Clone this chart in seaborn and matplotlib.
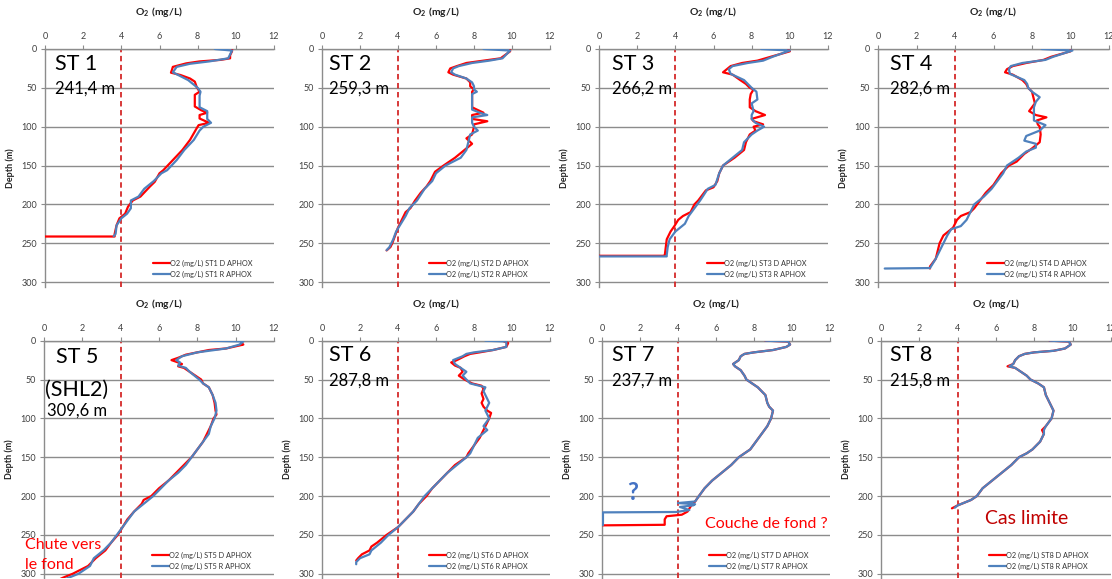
import matplotlib
matplotlib.use("Agg")
import matplotlib.pyplot as plt
import seaborn as sns

# ---------------- data ----------------
stations = ["ST1", "ST2", "ST3", "ST4", "ST5", "ST6", "ST7", "ST8"]
station_titles = ["ST 1", "ST 2", "ST 3", "ST 4", "ST 5", "ST 6", "ST 7", "ST 8"]
bottom_depths = ["241,4 m", "259,3 m", "266,2 m", "282,6 m", "309,6 m", "287,8 m", "237,7 m", "215,8 m"]
o2_ticks = [0, 2, 4, 6, 8, 10, 12]
depth_ticks = [0, 50, 100, 150, 200, 250, 300]
hypoxia_threshold = 4

st1_d_z = [0, 3, 8, 12, 14, 16, 18.5, 23, 27, 30.5, 33.5, 38, 42, 49, 55, 59, 74, 79, 82, 85, 89.5, 95, 98, 102, 117, 130, 143, 156, 160, 171, 177, 190, 195, 203, 212, 218, 227, 238, 241.4, 241.4]
st1_d_o2 = [9.8, 9.8, 9.7, 9.7, 9.2, 8.1, 7.4, 6.7, 6.65, 6.6, 7.1, 7.6, 7.85, 7.95, 8.1, 7.85, 7.85, 8.2, 8.5, 8.1, 8.1, 8.6, 8.05, 7.95, 7.6, 7.2, 6.7, 6.2, 6.0, 5.75, 5.5, 5.0, 4.6, 4.35, 4.2, 3.9, 3.75, 3.65, 3.65, 0.0]
st1_r_z = [0, 2, 12, 16, 19, 23, 30, 35, 40, 50, 55, 60, 75, 80, 85, 90, 95, 100, 105, 117, 130, 143, 156, 160, 170, 180, 190, 195, 205, 212, 218, 227, 238, 241]
st1_r_o2 = [8.9, 9.8, 9.6, 8.6, 7.6, 6.9, 6.7, 7.1, 7.5, 8.0, 8.15, 8.1, 8.1, 8.5, 8.5, 8.5, 8.7, 8.3, 8.1, 7.8, 7.3, 6.9, 6.4, 6.1, 5.7, 5.2, 4.9, 4.5, 4.5, 4.3, 4.0, 3.75, 3.7, 3.6]

st2_d_z = [0, 3, 12, 15, 18, 22, 25, 30, 33, 38, 43, 48, 52, 55, 60, 75, 78, 82, 85, 90, 93, 97, 100, 110, 115, 122, 130, 140, 150, 158, 170, 177, 185, 195, 205, 210, 215, 220, 230, 240, 250, 255, 259.3]
st2_d_o2 = [9.9, 9.9, 9.4, 8.5, 7.6, 7.1, 6.75, 6.65, 6.9, 7.6, 7.8, 7.8, 8.0, 7.9, 7.9, 7.9, 8.15, 8.5, 7.9, 7.9, 8.7, 8.0, 8.0, 7.9, 7.6, 7.9, 7.5, 7.0, 6.4, 5.95, 5.7, 5.5, 5.2, 4.9, 4.65, 4.4, 4.3, 4.2, 4.0, 3.85, 3.7, 3.6, 3.4]
st2_r_z = [0, 2, 12, 15, 18, 22, 25, 30, 33, 38, 43, 48, 52, 55, 58, 78, 82, 85, 88, 95, 100, 105, 110, 120, 130, 140, 150, 160, 170, 180, 195, 205, 215, 225, 235, 245, 255, 259]
st2_r_o2 = [8.5, 9.9, 9.5, 8.8, 7.9, 7.2, 6.9, 6.8, 7.0, 7.6, 7.9, 8.0, 8.0, 8.15, 7.9, 7.9, 8.3, 8.7, 7.9, 7.9, 8.0, 8.2, 7.8, 7.7, 7.6, 7.3, 6.5, 6.0, 5.8, 5.4, 5.0, 4.6, 4.4, 4.15, 3.9, 3.75, 3.55, 3.4]

st3_d_z = [0, 3, 10, 15, 18, 22, 26, 30, 33, 40, 45, 50, 52, 58, 65, 75, 80, 85, 90, 93, 97, 100, 105, 110, 115, 120, 130, 140, 150, 160, 170, 178, 182, 195, 200, 210, 215, 220, 228, 235, 245, 255, 265, 266.2, 266.2]
st3_d_o2 = [9.9, 10.0, 9.0, 8.3, 7.5, 6.9, 6.7, 6.5, 7.0, 7.4, 7.7, 7.9, 8.1, 7.95, 7.9, 7.9, 8.2, 8.7, 8.0, 8.1, 8.6, 8.1, 8.2, 7.9, 7.8, 7.7, 7.6, 7.1, 6.5, 6.3, 6.2, 6.0, 5.6, 5.2, 5.0, 4.8, 4.4, 4.15, 3.95, 3.75, 3.55, 3.5, 3.45, 3.45, 0.0]
st3_r_z = [0, 2, 10, 15, 18, 22, 26, 32, 40, 45, 50, 52, 55, 65, 70, 80, 85, 90, 95, 100, 105, 110, 120, 130, 140, 150, 160, 175, 180, 195, 205, 215, 225, 235, 245, 255, 265, 267, 267]
st3_r_o2 = [8.5, 10.0, 9.1, 8.6, 7.8, 7.0, 6.8, 6.9, 7.6, 7.8, 8.0, 8.1, 8.25, 8.3, 8.0, 8.1, 8.0, 8.0, 8.2, 8.65, 8.3, 8.0, 7.6, 7.5, 7.0, 6.5, 6.3, 6.1, 5.7, 5.3, 5.0, 4.7, 4.5, 4.0, 3.7, 3.6, 3.55, 3.55, 0.0]

st4_d_z = [0, 3, 10, 14, 18, 22, 26, 30, 33, 40, 45, 50, 55, 60, 70, 80, 85, 88, 92, 97, 100, 110, 120, 128, 135, 145, 150, 160, 175, 185, 195, 205, 210, 215, 220, 230, 240, 250, 260, 270, 280, 282.6]
st4_d_o2 = [10.0, 10.0, 9.0, 8.6, 7.7, 7.0, 6.7, 6.6, 7.0, 7.5, 7.7, 7.8, 8.0, 8.05, 8.15, 7.85, 8.2, 8.75, 8.25, 8.3, 8.4, 8.45, 8.4, 8.0, 7.6, 7.2, 6.8, 6.4, 6.0, 5.6, 5.3, 5.0, 4.8, 4.3, 4.1, 3.9, 3.4, 3.2, 3.1, 3.0, 2.7, 2.7]
st4_r_z = [0, 2, 10, 14, 18, 22, 26, 32, 40, 45, 50, 55, 62, 68, 75, 85, 92, 98, 105, 112, 118, 122, 127, 132, 140, 150, 160, 170, 180, 190, 200, 210, 220, 228, 232, 240, 250, 260, 270, 282, 282.6]
st4_r_o2 = [8.5, 10.1, 9.1, 8.7, 7.5, 6.9, 6.8, 6.85, 7.6, 7.75, 7.8, 8.0, 8.4, 8.2, 8.1, 8.1, 8.1, 8.7, 8.4, 7.7, 7.6, 8.2, 8.2, 7.7, 7.3, 6.7, 6.5, 6.2, 5.9, 5.5, 5.0, 4.8, 4.6, 4.3, 3.8, 3.6, 3.4, 3.2, 3.0, 2.7, 0.35]

st5_d_z = [0, 3, 5, 10, 12, 15, 18, 22, 25, 28, 30, 33, 35, 40, 45, 50, 55, 60, 70, 80, 90, 95, 100, 110, 120, 130, 140, 150, 160, 170, 180, 190, 200, 205, 210, 220, 230, 240, 250, 260, 270, 280, 290, 300, 305, 309.6]
st5_d_o2 = [10.3, 10.3, 10.4, 9.5, 8.6, 8.0, 7.4, 7.0, 6.65, 7.0, 7.2, 7.0, 7.3, 7.6, 7.9, 8.2, 8.3, 8.6, 8.8, 8.9, 8.95, 9.0, 8.85, 8.7, 8.5, 8.3, 8.0, 7.7, 7.3, 6.9, 6.5, 6.0, 5.6, 5.2, 5.1, 4.7, 4.35, 4.1, 3.85, 3.5, 3.2, 2.7, 2.3, 1.5, 1.0, 0.6]
st5_r_z = [0, 1, 5, 10, 15, 20, 25, 28, 32, 35, 40, 50, 55, 60, 70, 80, 90, 100, 110, 120, 130, 140, 150, 160, 170, 180, 190, 200, 210, 220, 230, 240, 250, 260, 270, 280, 290, 300, 305, 309.6]
st5_r_o2 = [8.7, 10.4, 10.2, 9.5, 8.0, 7.2, 6.9, 7.1, 7.0, 7.4, 7.6, 8.1, 8.3, 8.6, 8.8, 8.95, 9.0, 8.9, 8.7, 8.6, 8.3, 8.0, 7.7, 7.4, 7.0, 6.5, 6.1, 5.7, 5.2, 4.7, 4.4, 4.1, 3.8, 3.5, 3.1, 2.6, 2.4, 1.8, 1.3, 0.8]

st6_d_z = [0, 3, 8, 12, 15, 17, 20, 25, 28, 32, 35, 40, 45, 50, 55, 58, 62, 68, 75, 80, 85, 90, 93, 100, 110, 115, 125, 135, 145, 150, 160, 170, 180, 190, 200, 210, 220, 230, 240, 250, 260, 265, 270, 275, 280, 283]
st6_d_o2 = [9.5, 9.8, 9.7, 9.0, 8.3, 7.8, 7.5, 7.1, 6.8, 7.0, 7.3, 7.4, 7.2, 7.5, 7.9, 8.4, 8.5, 8.4, 8.5, 8.4, 8.5, 8.7, 8.9, 8.8, 8.6, 8.5, 8.3, 8.0, 7.7, 7.6, 7.0, 6.6, 6.2, 5.8, 5.5, 5.1, 4.8, 4.4, 4.0, 3.4, 2.9, 2.6, 2.5, 2.1, 1.9, 1.8]
st6_r_z = [0, 1, 8, 12, 15, 17, 20, 25, 30, 35, 40, 45, 50, 55, 60, 65, 70, 80, 85, 90, 100, 110, 115, 125, 135, 145, 150, 160, 170, 180, 190, 200, 210, 220, 230, 240, 250, 260, 270, 275, 280, 285, 287.8]
st6_r_o2 = [8.6, 9.7, 9.7, 9.0, 8.0, 7.6, 7.4, 6.9, 7.0, 7.3, 7.6, 7.4, 7.6, 7.8, 8.6, 8.5, 8.6, 8.8, 8.7, 8.6, 8.8, 8.5, 8.7, 8.2, 8.0, 7.8, 7.6, 7.1, 6.6, 6.2, 5.8, 5.4, 5.1, 4.8, 4.4, 4.0, 3.5, 3.1, 2.6, 2.5, 2.0, 1.8, 1.8]

st7_d_z = [0, 1, 5, 8, 12, 15, 17, 20, 25, 30, 33, 38, 45, 50, 55, 60, 65, 70, 80, 85, 90, 100, 110, 120, 130, 140, 150, 160, 170, 180, 190, 200, 207, 212, 220, 224, 226, 230, 237, 237.7]
st7_d_o2 = [8.6, 9.8, 9.9, 9.7, 9.0, 8.0, 7.5, 7.3, 7.2, 6.9, 7.0, 7.3, 7.5, 7.6, 7.9, 8.2, 8.4, 8.6, 8.7, 8.8, 9.0, 8.9, 8.7, 8.4, 8.1, 7.8, 7.2, 6.8, 6.3, 5.8, 5.4, 5.1, 4.9, 4.7, 4.5, 4.2, 3.4, 3.3, 3.3, 0.05]
st7_r_z = [0, 1, 5, 8, 12, 15, 17, 20, 25, 30, 33, 38, 45, 50, 55, 60, 65, 70, 80, 85, 90, 100, 110, 120, 130, 140, 150, 160, 170, 180, 190, 200, 207, 209, 210.5, 212, 214, 218, 220.5, 221, 237.5]
st7_r_o2 = [8.6, 9.8, 9.9, 9.7, 9.0, 8.0, 7.5, 7.3, 7.2, 6.9, 7.0, 7.3, 7.5, 7.6, 7.9, 8.2, 8.4, 8.6, 8.7, 8.8, 9.0, 8.9, 8.7, 8.4, 8.1, 7.8, 7.2, 6.8, 6.3, 5.8, 5.4, 5.1, 4.9, 4.0, 4.9, 4.8, 4.1, 4.6, 3.9, 0.05, 0.05]

st8_d_z = [0, 1, 5, 10, 13, 15, 17, 20, 25, 30, 33, 35, 40, 45, 50, 55, 60, 70, 80, 90, 100, 110, 115, 120, 130, 140, 145, 150, 160, 170, 180, 190, 200, 205, 208, 212, 215.8]
st8_d_o2 = [8.8, 9.8, 9.9, 9.6, 9.0, 8.0, 7.5, 7.2, 7.0, 6.9, 6.6, 7.0, 7.3, 7.6, 7.8, 8.2, 8.5, 8.6, 8.8, 9.0, 8.9, 8.6, 8.4, 8.5, 8.3, 7.9, 7.6, 7.2, 6.8, 6.3, 5.8, 5.3, 5.0, 4.7, 4.4, 4.0, 3.7]
st8_r_z = [0, 1, 5, 10, 13, 15, 17, 20, 25, 30, 33, 35, 40, 45, 50, 55, 60, 70, 80, 90, 100, 110, 115, 120, 130, 140, 145, 150, 160, 170, 180, 190, 200, 205, 208, 212, 215]
st8_r_o2 = [8.8, 9.8, 9.9, 9.6, 9.0, 8.0, 7.5, 7.2, 7.0, 6.9, 6.7, 7.0, 7.3, 7.6, 7.8, 8.2, 8.5, 8.6, 8.8, 9.0, 8.9, 8.6, 8.5, 8.5, 8.3, 7.9, 7.6, 7.2, 6.8, 6.3, 5.8, 5.3, 5.0, 4.7, 4.4, 4.0, 3.85]

profiles_d = [(st1_d_z, st1_d_o2), (st2_d_z, st2_d_o2), (st3_d_z, st3_d_o2), (st4_d_z, st4_d_o2),
              (st5_d_z, st5_d_o2), (st6_d_z, st6_d_o2), (st7_d_z, st7_d_o2), (st8_d_z, st8_d_o2)]
profiles_r = [(st1_r_z, st1_r_o2), (st2_r_z, st2_r_o2), (st3_r_z, st3_r_o2), (st4_r_z, st4_r_o2),
              (st5_r_z, st5_r_o2), (st6_r_z, st6_r_o2), (st7_r_z, st7_r_o2), (st8_r_z, st8_r_o2)]

# ---------------- style / layout ----------------
sns.set_theme(style="white")
plt.rcParams["font.family"] = ["Lato", "DejaVu Sans"]
plt.rcParams["mathtext.fontset"] = "custom"
plt.rcParams["mathtext.rm"] = "Lato"
plt.rcParams["mathtext.bf"] = "Lato:bold"

RED = "#FF0000"
BLUE = "#4F81BD"
GRID = "#8C8C8C"
DASH = "#D42A2A"

W, H = 1112, 579
fig = plt.figure(figsize=(W / 100, H / 100), dpi=100)

# axes pixel boxes (left, right, top)
boxes = [(45, 274, 49), (322, 550, 49), (599, 828, 49), (878, 1109, 49),
         (44, 274, 340.7), (322, 550, 340.7), (602, 830, 340.7), (881, 1111, 340.7)]
YMAX = 306
AX_H = 237.7
title_x = [0.52, 0.37, 0.66, 0.62, None, 0.37, 0.5, 0.47]
show_ylabel = [True, False, True, True, True, True, True, True]

for i in range(8):
    l, r, t = boxes[i]
    ax = fig.add_axes([l / W, 1 - (t + AX_H) / H, (r - l) / W, AX_H / H])
    z_d, o_d = profiles_d[i]
    z_r, o_r = profiles_r[i]
    ax.axvline(hypoxia_threshold, color=DASH, lw=1.3, ls=(0, (3, 2)), zorder=1)
    sns.lineplot(x=o_d, y=z_d, sort=False, estimator=None, color=RED, lw=1.6,
                 label=f"O2 (mg/L) {stations[i]} D APHOX", ax=ax, zorder=3)
    sns.lineplot(x=o_r, y=z_r, sort=False, estimator=None, color=BLUE, lw=1.6,
                 label=f"O2 (mg/L) {stations[i]} R APHOX", ax=ax, zorder=4)

    ax.set_xlim(0, 12)
    ax.set_ylim(YMAX, 0)
    ax.set_xticks(o2_ticks)
    ax.set_yticks(depth_ticks)
    ax.xaxis.tick_top()
    ax.xaxis.set_label_position("top")
    ax.grid(axis="y", color=GRID, lw=1)
    ax.grid(axis="x", visible=False)
    for s in ["right", "bottom"]:
        ax.spines[s].set_visible(False)
    for s in ["left", "top"]:
        ax.spines[s].set_color(GRID)
        ax.spines[s].set_linewidth(1)
    ax.tick_params(axis="both", which="major", length=3, width=0.8, color=GRID,
                   labelsize=6.5, labelcolor="#404040", pad=2.5, direction="out")
    ax.tick_params(axis="x", top=True, bottom=False)
    ax.tick_params(axis="y", left=True)

    ax.set_xlabel(r"$\mathbf{O_2\ (mg/L)}$", fontsize=7.5, color="#222222")
    ax.xaxis.set_label_coords(0.5, 1 + 34 / AX_H)
    if show_ylabel[i]:
        ax.set_ylabel("Depth (m)", fontsize=6.5, fontweight="bold", color="#222222")
        ax.yaxis.set_label_coords(-30 / (r - l), 0.5)
    else:
        ax.set_ylabel("")

    leg = ax.legend(loc="center left", bbox_to_anchor=(0.47, 0.075), frameon=False,
                    fontsize=5.3, handlelength=2.3, handletextpad=0.0, labelspacing=0.55,
                    borderpad=0, borderaxespad=0)
    for txt in leg.get_texts():
        txt.set_color("#333333")

    if title_x[i] is not None:
        ax.text(title_x[i], 19, station_titles[i], fontsize=15.5, ha="left", va="center", color="black")
        ax.text(title_x[i], 51, bottom_depths[i], fontsize=12, ha="left", va="center", color="black")
    else:
        ax.text(1.72, 21, station_titles[i], fontsize=15.5, ha="center", va="center", color="black")
        ax.text(1.72, 63.5, "(SHL2)", fontsize=15.5, ha="center", va="center", color="black")
        ax.text(1.72, 90, bottom_depths[i], fontsize=12, ha="center", va="center", color="black")

    if i == 4:
        ax.text(-1.0, 263, "Chute vers", fontsize=11.5, color=RED, ha="left", va="center", clip_on=False)
        ax.text(-1.0, 289, "le fond", fontsize=11.5, color=RED, ha="left", va="center", clip_on=False)
    if i == 6:
        ax.text(1.6, 195, "?", fontsize=17, fontweight="bold", color="#4472C4", ha="center", va="center")
        ax.text(5.4, 236, "Couche de fond ?", fontsize=11.5, color=RED, ha="left", va="center")
    if i == 7:
        ax.text(5.43, 229, "Cas limite", fontsize=14, color="#C00000", ha="left", va="center")

fig.savefig("out.png", dpi=100)
